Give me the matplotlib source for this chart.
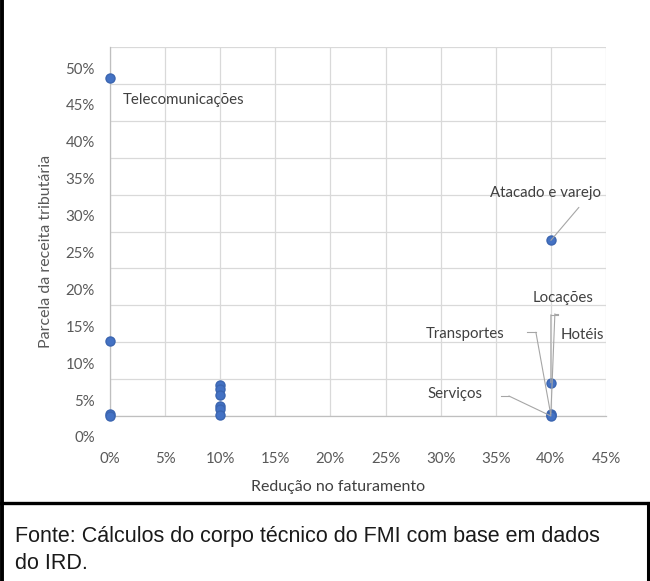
import matplotlib
matplotlib.use('Agg')
from matplotlib import pyplot as plt
from matplotlib.lines import Line2D
from matplotlib.ticker import PercentFormatter
import matplotlib.transforms as mtransforms

# reducao no faturamento (x) vs parcela da receita tributaria (y)
reducao = [0.00, 0.00, 0.00, 0.00,
           0.10, 0.10, 0.10, 0.10, 0.10, 0.10,
           0.40, 0.40, 0.40, 0.40, 0.40]
parcela = [0.458, 0.102, 0.003, 0.000,
           0.042, 0.037, 0.029, 0.014, 0.009, 0.002,
           0.238, 0.045, 0.003, 0.001, 0.000]

# labelled sectors: (name, index of point)
setores = ['Telecomunicações', 'Atacado e varejo', 'Locações', 'Hotéis', 'Transportes', 'Serviços']
setor_idx = [0, 10, 11, 12, 13, 14]

x_ticks = [0, 0.05, 0.10, 0.15, 0.20, 0.25, 0.30, 0.35, 0.40, 0.45]
y_ticks = [0, 0.05, 0.10, 0.15, 0.20, 0.25, 0.30, 0.35, 0.40, 0.45, 0.50]

fig = plt.figure(figsize=(6.5, 5.81), dpi=100)
ax = fig.add_axes([110/650, 1 - 416/581, 496/650, 369/581])

grid_c = '#d9d9d9'
txt_c = '#595959'
lab_c = '#404040'

ax.set_xlim(0, 0.45)
ax.set_ylim(0, 0.50)
ax.set_xticks(x_ticks)
ax.set_yticks(y_ticks)
ax.xaxis.set_major_formatter(PercentFormatter(1.0, decimals=0))
ax.yaxis.set_major_formatter(PercentFormatter(1.0, decimals=0))
ax.grid(True, color=grid_c, lw=0.9)
ax.set_axisbelow(True)
for s in ['top', 'right']:
    ax.spines[s].set_visible(False)
for s in ['left', 'bottom']:
    ax.spines[s].set_color('#bfbfbf')
    ax.spines[s].set_linewidth(0.9)
ax.tick_params(length=0, labelcolor=txt_c, labelsize=10.8)
ax.tick_params(axis='y', pad=11)
ax.tick_params(axis='x', pad=26)
for lbl in ax.get_xticklabels() + ax.get_yticklabels():
    lbl.set_fontfamily('Lato')
# y labels in the reference sit lower than their gridlines
shift = mtransforms.ScaledTranslation(0, -21/100, fig.dpi_scale_trans)
for lbl in ax.get_yticklabels():
    lbl.set_transform(lbl.get_transform() + shift)

ax.plot(reducao, parcela, 'o', color='#4472c4', mec='#3b65b0', ms=6.5, clip_on=False, zorder=3)

ax.set_ylabel('Parcela da receita tributária', fontfamily='Lato', fontsize=11.5, color=txt_c)
ax.set_xlabel('Redução no faturamento', fontfamily='Lato', fontsize=11.5, color=lab_c)
ax.yaxis.set_label_coords(-0.115, 0.447)
ax.xaxis.set_label_coords(0.46, -0.173)

# label offsets in pixels: text centre, leader start, hook end
text_off = [(74, -22), (-5, 47), (12, 85), (31, 79), (-86, 81), (-96, 22)]
lead_off = [None, (28, 33), (0, 68), (4, 100), (-15, 83), (-42, 20)]
hook_off = [None, None, (7, 68), (7, 100), (-24, 83), (-50, 20)]

leader = dict(arrowstyle='-', color='#a6a6a6', lw=0.8, shrinkA=0, shrinkB=0)
for name, i, t, l in zip(setores, setor_idx, text_off, lead_off):
    pt = (reducao[i], parcela[i])
    ax.annotate(name, xy=pt, xytext=t, textcoords='offset pixels',
                ha='center', va='center', fontfamily='Lato', fontsize=10.8, color=lab_c)
    if l is not None:
        ax.annotate('', xy=pt, xytext=l, textcoords='offset pixels', arrowprops=leader)

# hooks drawn as short segments between leader start and hook end
for i, l, h in zip(setor_idx, lead_off, hook_off):
    if h is None:
        continue
    base = ax.transData.transform((reducao[i], parcela[i]))
    p1 = fig.transFigure.inverted().transform((base[0] + l[0], base[1] + l[1]))
    p2 = fig.transFigure.inverted().transform((base[0] + h[0], base[1] + h[1]))
    fig.add_artist(Line2D([p1[0], p2[0]], [p1[1], p2[1]], color='#a6a6a6', lw=0.8))

# frame
fig.add_artist(Line2D([2/650, 2/650], [0, 1], color='black', lw=2.8))
fig.add_artist(Line2D([648/650, 648/650], [0, 1 - 503/581], color='black', lw=2.2))
fig.add_artist(Line2D([0, 1], [1 - 503/581, 1 - 503/581], color='black', lw=2.4))

fig.text(15/650, 1 - 550/581, 'Fonte: Cálculos do corpo técnico do FMI com base em dados\ndo IRD.',
         ha='left', va='center', fontfamily='Liberation Sans', fontsize=15.5,
         color='#1a1a1a', linespacing=1.4)

fig.savefig('out.png', dpi=100)
